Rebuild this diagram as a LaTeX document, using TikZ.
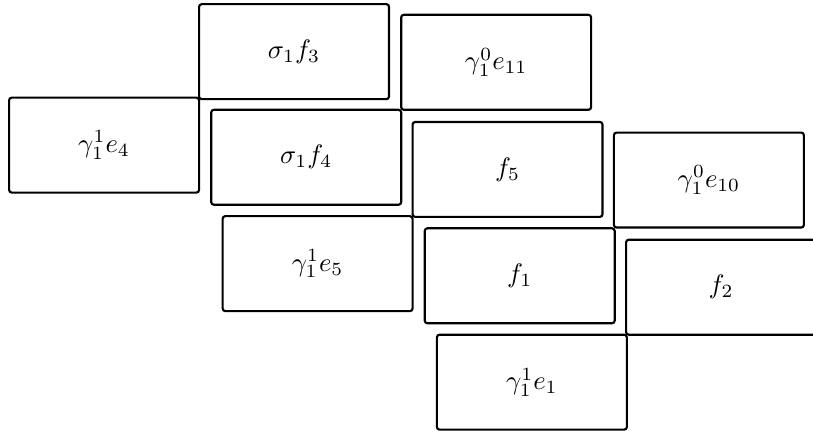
\documentclass[tikz,border=0pt]{standalone}
\usepackage{amsmath}
\usepackage{amssymb}
\usetikzlibrary{positioning}

\begin{document}
\begin{tikzpicture}[
    every node/.style={
        draw,
        thick,
        rounded corners=1pt,
        minimum width=2.5cm,
        minimum height=1.25cm
    }
]
\useasboundingbox (0,0) rectangle (10.7,-5.7);
\clip (0,0) rectangle (10.7,-5.7);

% First column
\node (G1E4) at (1.37,-1.91) {$\gamma_1^1 e_4$};

% Second column
\node (S1F3) at (3.87,-0.68) {$\sigma_1 f_3$};
\node (S1F4) at (4.03,-2.07) {$\sigma_1 f_4$};
\node (G1E5) at (4.18,-3.47) {$\gamma_1^1 e_5$};

% Third column
\node (G0E11) at (6.53,-0.82) {$\gamma_1^0 e_{11}$};
\node (F5) at (6.68,-2.23) {$f_5$};
\node (F1) at (6.84,-3.63) {$f_1$};
\node (G1E1) at (7.00,-5.03) {$\gamma_1^1 e_1$};

% Fourth column
\node (G0E10) at (9.33,-2.37) {$\gamma_1^0 e_{10}$};
\node (F2) at (9.49,-3.78) {$f_2$};

\end{tikzpicture}
\end{document}
